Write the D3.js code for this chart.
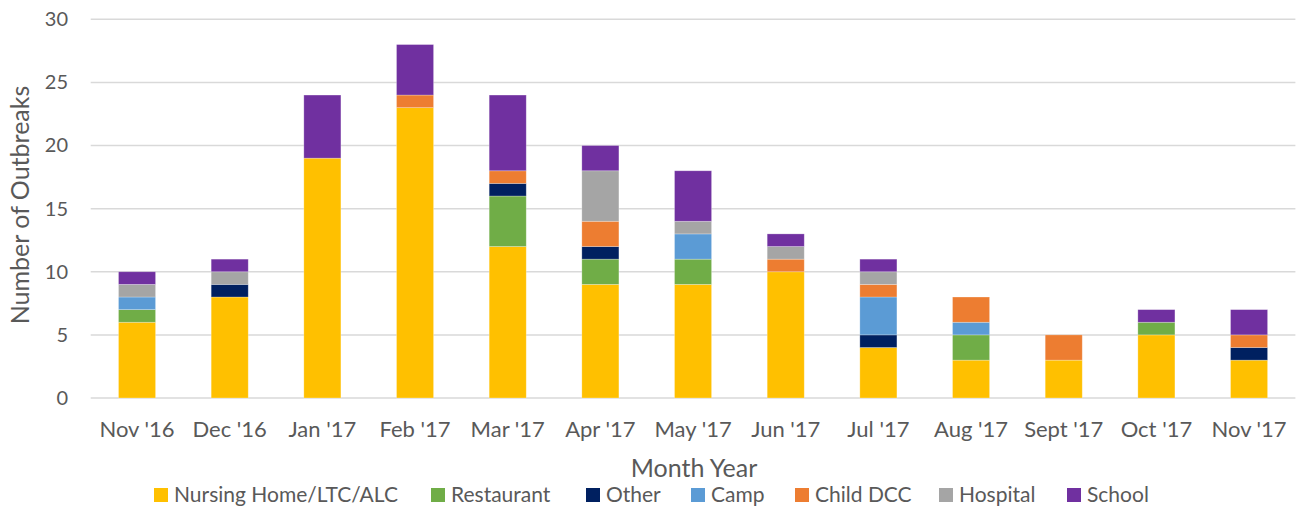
<!DOCTYPE html>
<html><head><meta charset="utf-8">
<script src="https://cdn.jsdelivr.net/npm/d3@7"></script>
<style>
html,body{margin:0;padding:0;background:#fff;}
text{font-family:Lato,"Open Sans",sans-serif;fill:#595959;}
</style></head>
<body><svg id="chart" width="1297" height="508"></svg>
<script>
const months = ["Nov '16","Dec '16","Jan '17","Feb '17","Mar '17","Apr '17","May '17","Jun '17","Jul '17","Aug '17","Sept '17","Oct '17","Nov '17"];
const seriesNames = ["Nursing Home/LTC/ALC","Restaurant","Other","Camp","Child DCC","Hospital","School"];
const seriesColors = ["#FFC000","#70AD47","#002060","#5B9BD5","#ED7D31","#A5A5A5","#7030A0"];
const nursingHome = [6,8,19,23,12,9,9,10,4,3,3,5,3];
const restaurant  = [1,0,0,0,4,2,2,0,0,2,0,1,0];
const other       = [0,1,0,0,1,1,0,0,1,0,0,0,1];
const camp        = [1,0,0,0,0,0,2,0,3,1,0,0,0];
const childDCC    = [0,0,0,1,1,2,0,1,1,2,2,0,1];
const hospital    = [1,1,0,0,0,4,1,1,1,0,0,0,0];
const school      = [1,1,5,4,6,2,4,1,1,0,0,1,2];
const yTicks = [0,5,10,15,20,25,30];

const seriesValues = [nursingHome,restaurant,other,camp,childDCC,hospital,school];
const table = months.map((m,i)=>{const r={month:m}; seriesNames.forEach((s,j)=>r[s]=seriesValues[j][i]); return r;});
const stacked = d3.stack().keys(seriesNames)(table);

const svg = d3.select("#chart");
const x = d3.scaleBand().domain(months).range([90.7,1295.4]).paddingInner(0.6).paddingOuter(0.3);
const y = d3.scaleLinear().domain([0,30]).range([398,19.3]);

// gridlines
svg.append("g").selectAll("line").data(yTicks).join("line")
  .attr("x1",90.7).attr("x2",1295.4)
  .attr("y1",d=>y(d)).attr("y2",d=>y(d))
  .attr("stroke","#D9D9D9").attr("stroke-width",1.5);

// y axis labels
const yAxis = d3.axisLeft(y).tickValues(yTicks).tickSize(0).tickPadding(0);
const gy = svg.append("g").attr("transform","translate(68,0)").call(yAxis);
gy.select(".domain").remove();
gy.selectAll("text").attr("font-size",20).attr("fill","#595959").style("font-family","Lato");

// bars
svg.append("g").selectAll("g").data(stacked).join("g")
  .attr("fill",(d,i)=>seriesColors[i])
  .selectAll("rect").data(d=>d.filter(v=>v[1]-v[0]>0)).join("rect")
  .attr("x",d=>x(d.data.month)).attr("width",x.bandwidth())
  .attr("y",d=>y(d[1])).attr("height",d=>y(d[0])-y(d[1]))
  .attr("stroke","#ffffff").attr("stroke-opacity",0.35).attr("stroke-width",0.75);

// x axis labels
const xAxis = d3.axisBottom(x).tickSize(0).tickPadding(0);
const gx = svg.append("g").attr("transform","translate(0,0)").call(xAxis);
gx.select(".domain").remove();
gx.selectAll("text").attr("y",437).attr("dy",null).attr("font-size",22).attr("fill","#595959").style("font-family","Lato");

// axis titles
svg.append("text").attr("x",694).attr("y",477).attr("text-anchor","middle").attr("font-size",25).text("Month Year");
svg.append("text").attr("transform","translate(29,205) rotate(-90)").attr("text-anchor","middle").attr("font-size",25).text("Number of Outbreaks");

// legend
const legendTextX = [174,451,606,711,815,959,1087];
const lg = svg.append("g").selectAll("g").data(seriesNames).join("g")
  .attr("transform",(d,i)=>`translate(${legendTextX[i]},502)`);
lg.append("rect").attr("x",-20).attr("y",-14).attr("width",14).attr("height",14).attr("fill",(d,i)=>seriesColors[i]);
lg.append("text").attr("x",0).attr("y",0).attr("font-size",21).text(d=>d);
</script></body></html>
